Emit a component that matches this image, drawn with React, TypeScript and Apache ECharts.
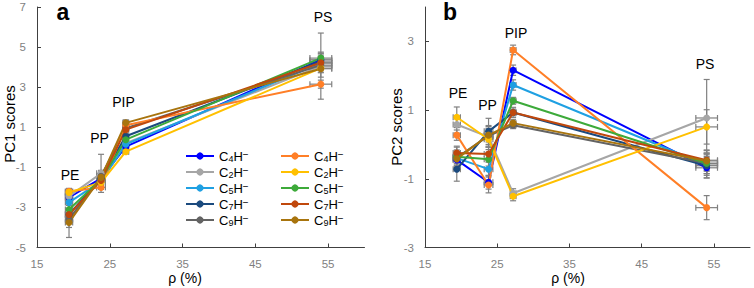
import React, { useEffect, useRef } from "react";
import * as echarts from "echarts";

// ---- data ----
const stages = ["PE", "PP", "PIP", "PS"];
const rho = [19.4, 23.8, 27.2, 54.0];
const rhoErr = [0.5, 0.6, 0.4, 1.5];

const ionDigits = ["4", "2", "5", "7", "9", "4", "2", "5", "7", "9"];
const seriesNames = [
  "C4H− (1)", "C2H− (1)", "C5H− (1)", "C7H− (1)", "C9H− (1)",
  "C4H− (2)", "C2H− (2)", "C5H− (2)", "C7H− (2)", "C9H− (2)",
];
const seriesColors = [
  "#0000FF", "#A6A6A6", "#1FA0E2", "#1B4A7E", "#636363",
  "#FF7F27", "#FFC000", "#3DAA3A", "#C0480C", "#A8740E",
];

// PC1 scores [PE, PP, PIP, PS]
const pc1Blue = [-2.5, -1.55, 0.03, 4.37];
const pc1Gray = [-2.45, -1.3, 0.2, 4.05];
const pc1LightBlue = [-2.75, -1.7, 0.15, 4.2];
const pc1Navy = [-3.35, -1.55, 0.55, 4.3];
const pc1DarkGray = [-3.6, -1.45, 0.95, 4.1];
const pc1Orange = [-2.2, -2.0, 1.1, 3.15];
const pc1Yellow = [-2.25, -1.75, -0.22, 3.95];
const pc1Green = [-3.1, -1.6, 0.38, 4.45];
const pc1Red = [-3.35, -1.65, 0.88, 4.22];
const pc1Olive = [-3.75, -1.5, 1.22, 3.92];

const pc1ErrBlue = [0.15, 0.15, 0.1, 0.3];
const pc1ErrGray = [0.2, 0.95, 0.15, 1.65];
const pc1ErrLightBlue = [0.15, 0.15, 0.1, 0.3];
const pc1ErrNavy = [0.2, 0.2, 0.15, 0.3];
const pc1ErrDarkGray = [0.9, 0.3, 0.15, 0.6];
const pc1ErrOrange = [0.15, 0.1, 0.1, 0.2];
const pc1ErrYellow = [0.1, 0.1, 0.1, 0.2];
const pc1ErrGreen = [0.2, 0.2, 0.1, 0.3];
const pc1ErrRed = [0.2, 0.2, 0.1, 0.3];
const pc1ErrOlive = [0.25, 0.3, 0.15, 0.2];

// PC2 scores [PE, PP, PIP, PS]
const pc2Blue = [-0.45, -1.1, 2.16, -0.68];
const pc2Gray = [0.58, 0.22, -1.42, 0.77];
const pc2LightBlue = [-0.4, -0.72, 1.73, -0.6];
const pc2Navy = [-0.72, 0.38, 0.93, -0.62];
const pc2DarkGray = [-0.38, 0.25, 0.56, -0.55];
const pc2Orange = [0.27, -1.18, 2.75, -1.84];
const pc2Yellow = [0.79, 0.15, -1.51, 0.51];
const pc2Green = [-0.36, -0.43, 1.27, -0.55];
const pc2Red = [-0.25, -0.28, 0.93, -0.46];
const pc2Olive = [-0.42, 0.27, 0.62, -0.48];

const pc2ErrBlue = [0.2, 0.2, 0.15, 0.3];
const pc2ErrGray = [0.25, 0.3, 0.13, 1.12];
const pc2ErrLightBlue = [0.2, 0.2, 0.15, 0.3];
const pc2ErrNavy = [0.35, 0.38, 0.15, 0.35];
const pc2ErrDarkGray = [0.3, 0.3, 0.1, 0.3];
const pc2ErrOrange = [0.15, 0.23, 0.14, 0.35];
const pc2ErrYellow = [0.3, 0.3, 0.13, 0.5];
const pc2ErrGreen = [0.2, 0.2, 0.1, 0.3];
const pc2ErrRed = [0.2, 0.2, 0.1, 0.3];
const pc2ErrOlive = [0.2, 0.2, 0.1, 0.3];

const xTicks = [15, 25, 35, 45, 55];
const pc1Ticks = [-5, -3, -1, 1, 3, 5, 7];
const pc2Ticks = [-3, -1, 1, 3];

const pc1All = [pc1Blue, pc1Gray, pc1LightBlue, pc1Navy, pc1DarkGray, pc1Orange, pc1Yellow, pc1Green, pc1Red, pc1Olive];
const pc1ErrAll = [pc1ErrBlue, pc1ErrGray, pc1ErrLightBlue, pc1ErrNavy, pc1ErrDarkGray, pc1ErrOrange, pc1ErrYellow, pc1ErrGreen, pc1ErrRed, pc1ErrOlive];
const pc2All = [pc2Blue, pc2Gray, pc2LightBlue, pc2Navy, pc2DarkGray, pc2Orange, pc2Yellow, pc2Green, pc2Red, pc2Olive];
const pc2ErrAll = [pc2ErrBlue, pc2ErrGray, pc2ErrLightBlue, pc2ErrNavy, pc2ErrDarkGray, pc2ErrOrange, pc2ErrYellow, pc2ErrGreen, pc2ErrRed, pc2ErrOlive];

const FONT = '"Liberation Sans", Arial, sans-serif';
const AXIS_COLOR = "#404040";
const LABEL_COLOR = "#7f7f7f";
const ERR_COLOR = "#808080";

function errorRender(params: any, api: any) {
  const x = api.value(0);
  const y = api.value(1);
  const ex = api.value(2);
  const ey = api.value(3);
  const l = api.coord([x - ex, y]);
  const r = api.coord([x + ex, y]);
  const t = api.coord([x, y + ey]);
  const b = api.coord([x, y - ey]);
  const cap = 3;
  const style = { stroke: ERR_COLOR, lineWidth: 1.2 };
  const ln = (x1: number, y1: number, x2: number, y2: number) => ({
    type: "line",
    shape: { x1, y1, x2, y2 },
    style,
  });
  return {
    type: "group",
    children: [
      ln(l[0], l[1], r[0], r[1]),
      ln(t[0], t[1], b[0], b[1]),
      ln(l[0], l[1] - cap, l[0], l[1] + cap),
      ln(r[0], r[1] - cap, r[0], r[1] + cap),
      ln(t[0] - cap, t[1], t[0] + cap, t[1]),
      ln(b[0] - cap, b[1], b[0] + cap, b[1]),
    ],
  };
}

function buildSeries(vals: number[][], errs: number[][], gi: number) {
  const out: any[] = [];
  const errData: number[][] = [];
  vals.forEach((v, i) => {
    v.forEach((y, j) => errData.push([rho[j], y, rhoErr[j], errs[i][j]]));
  });
  out.push({
    type: "custom",
    xAxisIndex: gi,
    yAxisIndex: gi,
    renderItem: errorRender,
    data: errData,
    encode: { x: 0, y: 1 },
    z: 1,
    silent: true,
  });
  vals.forEach((v, i) => {
    out.push({
      type: "line",
      name: seriesNames[i],
      xAxisIndex: gi,
      yAxisIndex: gi,
      data: v.map((y, j) => [rho[j], y]),
      symbol: "circle",
      symbolSize: 7,
      showSymbol: true,
      color: seriesColors[i],
      lineStyle: { width: 2, color: seriesColors[i] },
      itemStyle: { color: seriesColors[i] },
      z: 2,
    });
  });
  return out;
}

function xAxisCfg(gi: number) {
  return {
    type: "value",
    gridIndex: gi,
    min: 15,
    max: 60,
    interval: 10,
    axisLine: { show: true, onZero: false, lineStyle: { color: AXIS_COLOR, width: 1 } },
    axisTick: { show: true, inside: true, length: 4, customValues: xTicks, lineStyle: { color: AXIS_COLOR } },
    axisLabel: { customValues: xTicks, color: LABEL_COLOR, fontSize: 11.5, fontFamily: FONT, margin: 10 },
    splitLine: { show: false },
  };
}

function yAxisCfg(gi: number, min: number, max: number, ticks: number[]) {
  return {
    type: "value",
    gridIndex: gi,
    min,
    max,
    interval: 2,
    axisLine: { show: true, onZero: false, lineStyle: { color: AXIS_COLOR, width: 1 } },
    axisTick: { show: true, inside: true, length: 4, customValues: ticks, lineStyle: { color: AXIS_COLOR } },
    axisLabel: { customValues: ticks, color: LABEL_COLOR, fontSize: 11.5, fontFamily: FONT, margin: 11 },
    splitLine: { show: false },
  };
}

function legendCfg(names: string[], left: number) {
  return {
    data: names,
    orient: "vertical",
    left,
    top: 149,
    padding: 0,
    itemGap: 2,
    itemWidth: 28,
    itemHeight: 9,
    selectedMode: false,
    formatter: (name: string) => {
      const idx = seriesNames.indexOf(name);
      return `C{sub|${ionDigits[idx]}}H{sup|−}`;
    },
    textStyle: {
      fontFamily: FONT,
      fontSize: 13,
      lineHeight: 14,
      color: "#000",
      rich: {
        sub: { fontFamily: FONT, fontSize: 9, lineHeight: 8, verticalAlign: "bottom", color: "#000" },
        sup: { fontFamily: FONT, fontSize: 10, lineHeight: 8, verticalAlign: "top", color: "#000" },
      },
    },
  };
}

function txt(text: string, x: number, y: number, size = 14, bold = false, rot = 0) {
  return {
    type: "text",
    x,
    y,
    rotation: rot,
    silent: true,
    style: {
      text,
      fill: "#000",
      font: `${bold ? "bold " : ""}${size}px ${FONT}`,
      align: "center",
      verticalAlign: "middle",
    },
  };
}

export default function App() {
  const ref = useRef<HTMLDivElement>(null);
  useEffect(() => {
    document.body.style.margin = "0";
    if (!ref.current) return;
    const chart = echarts.init(ref.current, undefined, { renderer: "svg" });
    const option: any = {
      animation: false,
      backgroundColor: "#fff",
      grid: [
        { left: 37, top: 7, width: 327.5, height: 240.5 },
        { left: 425, top: 7, width: 325, height: 240.5 },
      ],
      xAxis: [xAxisCfg(0), xAxisCfg(1)],
      yAxis: [yAxisCfg(0, -5, 7, pc1Ticks), yAxisCfg(1, -3, 4, pc2Ticks)],
      legend: [legendCfg(seriesNames.slice(0, 5), 185), legendCfg(seriesNames.slice(5), 280)],
      series: [...buildSeries(pc1All, pc1ErrAll, 0), ...buildSeries(pc2All, pc2ErrAll, 1)],
      graphic: [
        txt("a", 63, 12, 23, true),
        txt("b", 450, 12, 23, true),
        txt(stages[0], 70, 174.5),
        txt(stages[1], 99.5, 138),
        txt(stages[2], 123.5, 102),
        txt(stages[3], 323, 17),
        txt(stages[0], 458, 93),
        txt(stages[1], 487.5, 105),
        txt(stages[2], 516, 33),
        txt(stages[3], 705, 63.5),
        txt("PC1 scores", 9, 124, 15, false, Math.PI / 2),
        txt("PC2 scores", 396, 127, 15, false, Math.PI / 2),
        txt("ρ (%)", 185, 278, 14),
        txt("ρ (%)", 568, 278, 14),
      ],
    };
    chart.setOption(option);
    return () => chart.dispose();
  }, []);
  return <div ref={ref} style={{ width: 754, height: 288 }} />;
}
